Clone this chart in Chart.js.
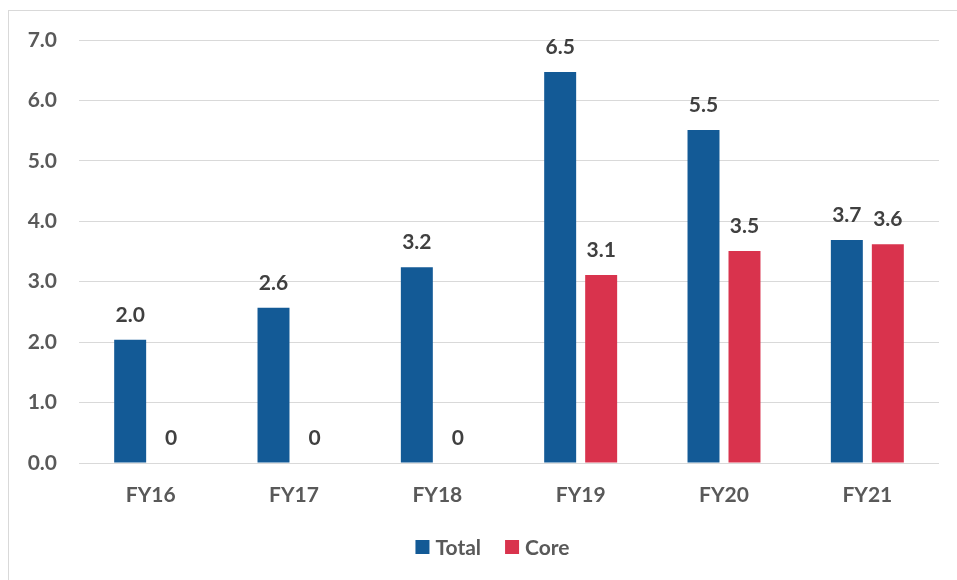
<!DOCTYPE html>
<html>
<head>
<meta charset="utf-8">
<script src="https://cdn.jsdelivr.net/npm/chart.js@4/dist/chart.umd.min.js"></script>
<style>
  html, body { margin: 0; padding: 0; background: #ffffff; overflow: hidden; }
  #frame {
    position: absolute; left: 8px; top: 10px; width: 969px; height: 1000px;
    border-top: 1px solid #d9d9d9; border-left: 1px solid #d9d9d9;
  }
  #wrap { position: absolute; left: 0; top: 0; width: 957px; height: 580px; }
</style>
</head>
<body>
<div id="frame"></div>
<div id="wrap"><canvas id="chart" width="957" height="580"></canvas></div>
<script>
// Fiscal years and the two series (values in the chart's units)
const categories = ['FY16', 'FY17', 'FY18', 'FY19', 'FY20', 'FY21'];
const totalValues = [2.04, 2.57, 3.24, 6.47, 5.51, 3.69];
const coreValues = [0, 0, 0, 3.11, 3.51, 3.62];
const yTicks = [0, 1, 2, 3, 4, 5, 6, 7];

const FONT = 'Lato, "Open Sans", sans-serif';

function fmt(v) {
  return v === 0 ? '0' : v.toFixed(1);
}

// Writes each bar's value above it
const valueLabels = {
  id: 'valueLabels',
  afterDatasetsDraw(chart) {
    const ctx = chart.ctx;
    ctx.save();
    ctx.font = 'bold 21px ' + FONT;
    ctx.fillStyle = '#404040';
    ctx.textAlign = 'center';
    ctx.textBaseline = 'alphabetic';
    chart.data.datasets.forEach((ds, i) => {
      chart.getDatasetMeta(i).data.forEach((bar, j) => {
        ctx.fillText(fmt(ds.data[j]), bar.x, bar.y - 18);
      });
    });
    ctx.restore();
  }
};

// Compact legend row under the axis, centred on the framed chart
const bottomLegend = {
  id: 'bottomLegend',
  afterDraw(chart) {
    const ctx = chart.ctx;
    const box = 14, gap = 6, spacing = 24, cy = 547, centerX = 492.5;
    ctx.save();
    ctx.font = 'bold 21px ' + FONT;
    ctx.textBaseline = 'middle';
    ctx.textAlign = 'left';
    const items = chart.data.datasets.map(ds => ({
      text: ds.label, color: ds.backgroundColor,
      w: box + gap + ctx.measureText(ds.label).width
    }));
    const total = items.reduce((s, it) => s + it.w, 0) + spacing * (items.length - 1);
    let x = centerX - total / 2;
    items.forEach(it => {
      ctx.fillStyle = it.color;
      ctx.fillRect(x, cy - box / 2, box, box);
      ctx.fillStyle = '#595959';
      ctx.fillText(it.text, x + box + gap, cy + 1);
      x += it.w + spacing;
    });
    ctx.restore();
  }
};

new Chart(document.getElementById('chart'), {
  type: 'bar',
  data: {
    labels: categories,
    datasets: [
      { label: 'Total', data: totalValues, backgroundColor: '#135A96',
        barPercentage: 0.78, categoryPercentage: 0.572 },
      { label: 'Core', data: coreValues, backgroundColor: '#D9334D',
        barPercentage: 0.78, categoryPercentage: 0.572 }
    ]
  },
  options: {
    responsive: false,
    animation: false,
    layout: { padding: { top: 40, right: 18, left: 0, bottom: 55 } },
    plugins: {
      legend: { display: false },
      tooltip: { enabled: false }
    },
    scales: {
      x: {
        grid: { display: false, drawTicks: false },
        border: { display: false },
        ticks: {
          padding: 20, color: '#595959',
          font: { family: FONT, size: 21, weight: 'bold' }
        },
        afterFit(scale) { scale.height = 62; }
      },
      y: {
        min: 0, max: 7,
        afterBuildTicks(scale) { scale.ticks = yTicks.map(v => ({ value: v })); },
        grid: { color: '#d9d9d9', lineWidth: 1, drawTicks: false },
        border: { display: false },
        ticks: {
          padding: 22, color: '#595959',
          font: { family: FONT, size: 21, weight: 'bold' },
          callback: v => Number(v).toFixed(1)
        },
        afterFit(scale) { scale.width = 79; }
      }
    }
  },
  plugins: [valueLabels, bottomLegend]
});
</script>
</body>
</html>
